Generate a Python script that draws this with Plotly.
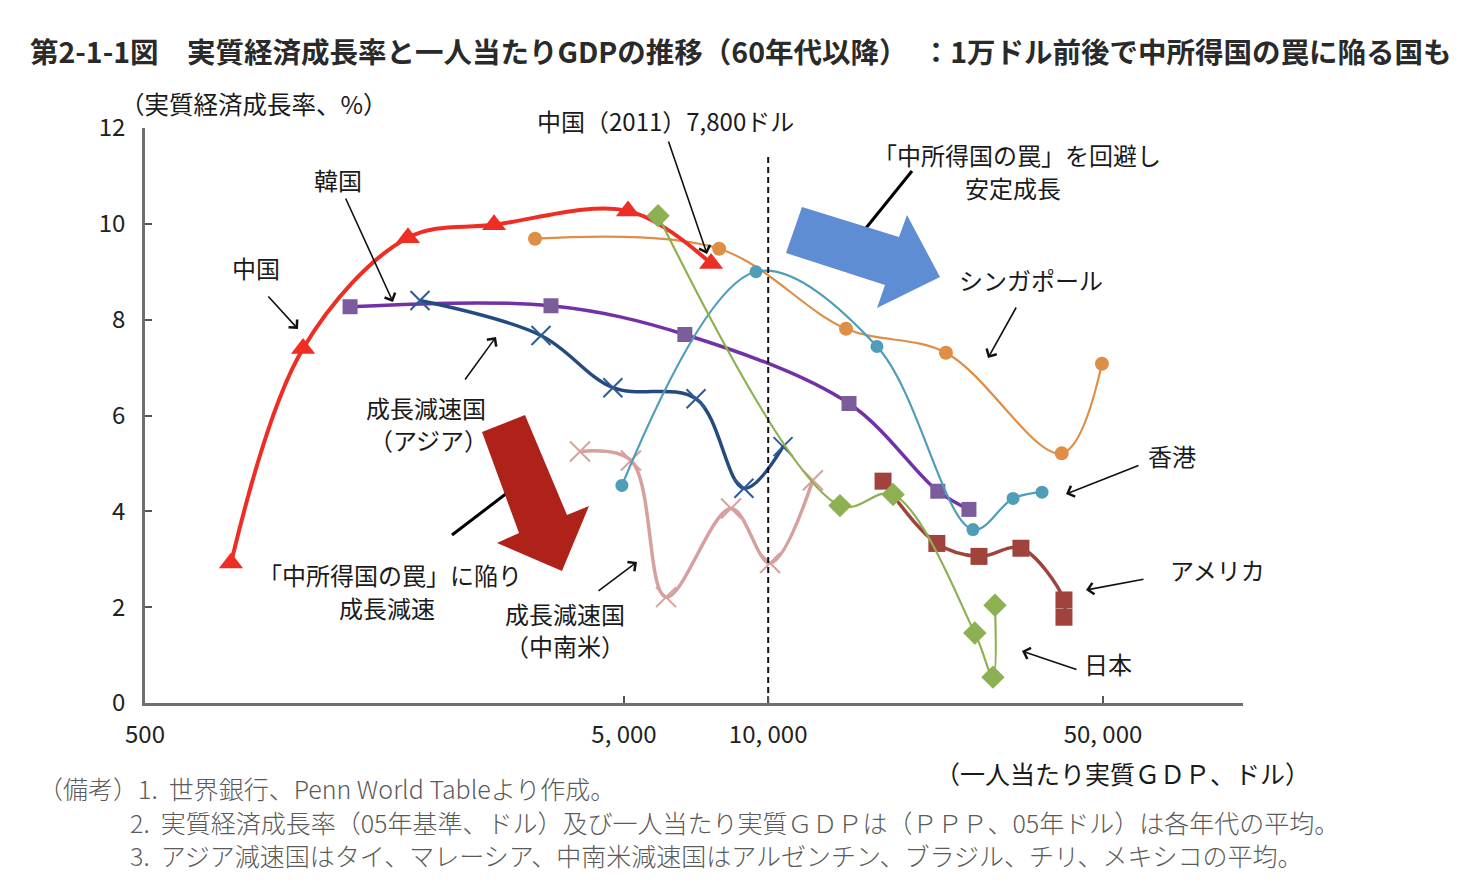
import plotly.graph_objects as go

# ---------------- data ----------------
china_gdp = [756, 1069, 1770, 2677, 5097, 7600]
china_growth = [2.92, 7.40, 9.71, 9.98, 10.27, 9.17]

korea_gdp = [1340, 3520, 6700, 14750, 22600, 26250]
korea_growth = [8.27, 8.29, 7.69, 6.25, 4.42, 4.04]

asia_gdp = [1875, 3355, 4740, 7070, 8900, 10740]
asia_growth = [8.40, 7.67, 6.58, 6.35, 4.48, 5.35]

latam_gdp = [4047, 5170, 6120, 8365, 10090, 12400]
latam_growth = [5.25, 5.06, 2.21, 4.06, 2.92, 4.65]

sg_gdp = [3260, 7900, 14540, 23500, 41000, 49750]
sg_growth = [9.69, 9.48, 7.81, 7.31, 5.21, 7.08]

hk_gdp = [4950, 9430, 16870, 26760, 32450, 37300]
hk_growth = [4.54, 9.00, 7.44, 3.62, 4.27, 4.40]

japan_gdp = [5890, 14120, 18230, 27000, 29460, 29750]
japan_growth = [10.17, 4.12, 4.35, 1.46, 0.54, 2.04]

usa_gdp = [17370, 22500, 27550, 33700, 41450, 41450]
usa_growth = [4.63, 3.33, 3.06, 3.23, 2.15, 1.79]

threshold_gdp = [10000, 10000]
threshold_growth = [0, 11.42]

x_tickvals = [500, 5000, 10000, 50000]
x_ticktext = ["500", "5, 000", "10, 000", "50, 000"]
y_tickvals = [0, 2, 4, 6, 8, 10, 12]

# ---------------- layout geometry ----------------
L, T, W, H = 145, 128, 1098, 575
FIG_W, FIG_H = 1472, 896


def px(x):
    return (x - L) / W


def py(y):
    return (T + H - y) / H


JP = "Noto Sans CJK JP, Noto Sans, sans-serif"
NUM = "Liberation Sans Narrow, Noto Sans CJK JP, sans-serif"

fig = go.Figure()


def add_series(x, y, color, width, symbol, size, mcolor=None, mline=0):
    fig.add_trace(go.Scatter(
        x=x, y=y, mode="lines+markers",
        line=dict(color=color, width=width, shape="spline", smoothing=1.0),
        marker=dict(symbol=symbol, size=size, color=mcolor or color,
                    line=dict(color=mcolor or color, width=mline)),
        showlegend=False, hoverinfo="x+y"))


add_series(korea_gdp, korea_growth, "#7232A6", 3.5, "square", 15, "#7B5D9B")
add_series(asia_gdp, asia_growth, "#254B7E", 3.5, "x-thin-open", 19, "#2E5A96", 2)
add_series(latam_gdp, latam_growth, "#D6A09E", 3.5, "x-thin-open", 20, "#D6A09E", 2)
add_series(sg_gdp, sg_growth, "#DE8E45", 2.2, "circle", 14)
add_series(hk_gdp, hk_growth, "#4E9DB9", 2.2, "circle", 13)
add_series(usa_gdp, usa_growth, "#A0433D", 3.5, "square", 17)
add_series(china_gdp, china_growth, "#EE2E24", 4, "triangle-up", 21)
add_series(japan_gdp, japan_growth, "#8DB152", 2.2, "diamond", 18)

fig.add_trace(go.Scatter(
    x=threshold_gdp, y=threshold_growth, mode="lines",
    line=dict(color="#111111", width=2, dash="6px,4px"),
    showlegend=False, hoverinfo="skip"))

# ---------------- decorative shapes ----------------
shapes = []


def seg(x0, y0, x1, y1, w=3):
    shapes.append(dict(type="line", xref="paper", yref="paper",
                       x0=px(x0), y0=py(y0), x1=px(x1), y1=py(y1),
                       line=dict(color="#000000", width=w), layer="above"))


def poly(pts, color):
    path = "M " + " L ".join(f"{px(a):.5f},{py(b):.5f}" for a, b in pts) + " Z"
    shapes.append(dict(type="path", xref="paper", yref="paper", path=path,
                       fillcolor=color, line=dict(width=0), layer="above"))


seg(912, 171, 866, 228)
poly([(802, 207), (899, 237), (907, 215), (940, 277), (877, 308), (885, 285), (786, 253)], "#5F8DD3")
seg(452, 535, 507, 493)
poly([(482, 432), (525, 415), (567, 515), (589, 506), (562, 571), (497, 543), (519, 533)], "#AE2219")

annotations = []


def text(x, y, s, size=24, anchor="center", color="#1a1a1a", family=JP, weight="normal"):
    annotations.append(dict(xref="paper", yref="paper", x=px(x), y=py(y), text=s,
                            showarrow=False, xanchor=anchor, yanchor="middle",
                            font=dict(family=family, size=size, color=color, weight=weight)))


def arrow(tx, ty, hx, hy):
    annotations.append(dict(xref="paper", yref="paper", x=px(hx), y=py(hy),
                            ax=tx - hx, ay=ty - hy, text="", showarrow=True,
                            arrowhead=4, arrowsize=1.4, arrowwidth=1.6,
                            arrowcolor="#111111", standoff=0))


# title
text(28, 50, "第2-1-1図　実質経済成長率と一人当たりGDPの推移（60年代以降）　：1万ドル前後で中所得国の罠に陥る国も",
     size=28.5, anchor="left", color="#2a2a2a", weight="bold")
# axis titles
text(118, 103, "（実質経済成長率、%）", size=24.5, anchor="left")
text(1122, 773, "（一人当たり実質ＧＤＰ、ドル）", size=25)

# labels
text(665, 120, "中国（2011）7,800ドル", size=24)
arrow(668, 140, 707, 254)
text(338, 179, "韓国")
arrow(345, 197, 393, 302)
text(256, 267, "中国")
arrow(267, 295, 298, 329)
text(1017, 154, "「中所得国の罠」を回避し")
text(1013, 188, "安定成長")
text(1031, 279, "シンガポール")
arrow(1017, 306, 988, 358)
text(1172, 455, "香港")
arrow(1140, 465, 1066, 494)
text(1217, 569, "アメリカ")
arrow(1145, 579, 1086, 590)
text(1108, 663, "日本")
arrow(1078, 670, 1022, 651)
text(426, 407, "成長減速国")
text(428, 439, "（アジア）")
arrow(464, 381, 496, 337)
text(390, 574, "「中所得国の罠」に陥り")
text(387, 607, "成長減速")
text(565, 613, "成長減速国")
text(565, 645, "（中南米）")
arrow(597, 592, 637, 562)

# footnotes
FN = "#5a5a5a"
text(36, 788, "（備考）1.  世界銀行、Penn World Tableより作成。", size=25, anchor="left", color=FN, weight=300)
text(128, 822, "2.  実質経済成長率（05年基準、ドル）及び一人当たり実質ＧＤＰは（ＰＰＰ、05年ドル）は各年代の平均。",
     size=25, anchor="left", color=FN, weight=300)
text(128, 855, "3.  アジア減速国はタイ、マレーシア、中南米減速国はアルゼンチン、ブラジル、チリ、メキシコの平均。",
     size=25, anchor="left", color=FN, weight=300)

fig.update_layout(
    width=FIG_W, height=FIG_H,
    margin=dict(l=L, r=FIG_W - L - W, t=T, b=FIG_H - T - H),
    paper_bgcolor="white", plot_bgcolor="white",
    shapes=shapes, annotations=annotations,
    xaxis=dict(type="log", range=[2.69897, 4.9913],
               tickvals=x_tickvals, ticktext=x_ticktext,
               ticks="inside", ticklen=7, tickwidth=1.5, tickcolor="#555555",
               showline=True, linecolor="#6f6f6f", linewidth=2.5,
               showgrid=False, zeroline=False,
               tickfont=dict(family=NUM, size=24, color="#222222"),
               ticklabelstandoff=8),
    yaxis=dict(range=[0, 12], tickvals=y_tickvals,
               ticks="inside", ticklen=7, tickwidth=1.5, tickcolor="#555555",
               showline=True, linecolor="#6f6f6f", linewidth=2.5,
               showgrid=False, zeroline=False,
               tickfont=dict(family=NUM, size=24, color="#222222"),
               ticklabelstandoff=12),
    font=dict(family=JP),
)

fig.write_html(
    "out.html",
    config={"displayModeBar": False},
    post_script="document.body.style.margin='0';document.body.style.overflow='hidden';",
)
